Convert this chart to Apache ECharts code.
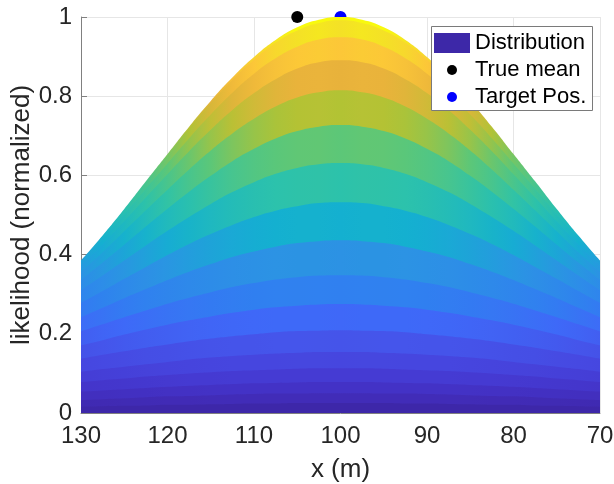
<!DOCTYPE html>
<html>
<head>
<meta charset="utf-8">
<script src="https://cdn.jsdelivr.net/npm/echarts@6/dist/echarts.min.js"></script>
<style>
  html, body { margin: 0; padding: 0; background: #fff; }
  #chart { width: 614px; height: 484px; }
</style>
</head>
<body>
<div id="chart"></div>
<script>
// x positions (m) where the band edges were read
const xValues = [130, 127.5, 125, 122.5, 120, 117.5, 115, 112.5, 110, 107.5, 105, 102.5, 100,
  97.5, 95, 92.5, 90, 87.5, 85, 82.5, 80, 77.5, 75, 72.5, 70]

// band boundaries (likelihood), lowest first
const edge00 = [0.016, 0.017, 0.018, 0.019, 0.021, 0.021, 0.022, 0.023, 0.024, 0.024, 0.025, 0.025, 0.025,
  0.025, 0.025, 0.024, 0.024, 0.023, 0.022, 0.021, 0.021, 0.019, 0.018, 0.017, 0.016]
const edge01 = [0.033, 0.035, 0.037, 0.040, 0.042, 0.043, 0.045, 0.047, 0.048, 0.049, 0.049, 0.050, 0.050,
  0.050, 0.049, 0.049, 0.048, 0.047, 0.045, 0.043, 0.042, 0.040, 0.037, 0.035, 0.033]
const edge02 = [0.054, 0.057, 0.060, 0.063, 0.066, 0.069, 0.071, 0.073, 0.075, 0.076, 0.077, 0.078, 0.078,
  0.078, 0.077, 0.076, 0.075, 0.073, 0.071, 0.069, 0.066, 0.063, 0.060, 0.057, 0.054]
const edge03 = [0.078, 0.083, 0.087, 0.092, 0.096, 0.100, 0.103, 0.106, 0.108, 0.110, 0.112, 0.113, 0.113,
  0.113, 0.112, 0.110, 0.108, 0.106, 0.103, 0.100, 0.096, 0.092, 0.087, 0.083, 0.078]
const edge04 = [0.104, 0.111, 0.117, 0.123, 0.129, 0.135, 0.140, 0.144, 0.147, 0.150, 0.152, 0.154, 0.154,
  0.154, 0.152, 0.150, 0.147, 0.144, 0.140, 0.135, 0.129, 0.123, 0.117, 0.111, 0.104]
const edge05 = [0.137, 0.147, 0.156, 0.165, 0.173, 0.181, 0.188, 0.194, 0.199, 0.204, 0.207, 0.208, 0.209,
  0.208, 0.207, 0.204, 0.199, 0.194, 0.188, 0.181, 0.173, 0.165, 0.156, 0.147, 0.137]
const edge06 = [0.171, 0.184, 0.198, 0.211, 0.223, 0.234, 0.244, 0.253, 0.261, 0.267, 0.271, 0.274, 0.275,
  0.274, 0.271, 0.267, 0.261, 0.253, 0.244, 0.234, 0.223, 0.211, 0.198, 0.184, 0.171]
const edge07 = [0.206, 0.224, 0.242, 0.259, 0.276, 0.291, 0.305, 0.318, 0.328, 0.337, 0.343, 0.347, 0.348,
  0.347, 0.343, 0.337, 0.328, 0.318, 0.305, 0.291, 0.276, 0.259, 0.242, 0.224, 0.206]
const edge08 = [0.242, 0.266, 0.290, 0.313, 0.336, 0.357, 0.376, 0.394, 0.408, 0.420, 0.429, 0.434, 0.436,
  0.434, 0.429, 0.420, 0.408, 0.394, 0.376, 0.357, 0.336, 0.313, 0.290, 0.266, 0.242]
const edge09 = [0.278, 0.308, 0.339, 0.369, 0.399, 0.427, 0.452, 0.475, 0.495, 0.511, 0.522, 0.530, 0.532,
  0.530, 0.522, 0.511, 0.495, 0.475, 0.452, 0.427, 0.399, 0.369, 0.339, 0.308, 0.278]
const edge10 = [0.310, 0.347, 0.385, 0.423, 0.460, 0.495, 0.528, 0.558, 0.583, 0.604, 0.619, 0.628, 0.631,
  0.628, 0.619, 0.604, 0.583, 0.558, 0.528, 0.495, 0.460, 0.423, 0.385, 0.347, 0.310]
const edge11 = [0.336, 0.380, 0.425, 0.471, 0.516, 0.559, 0.599, 0.636, 0.667, 0.693, 0.712, 0.723, 0.727,
  0.723, 0.712, 0.693, 0.667, 0.636, 0.599, 0.559, 0.516, 0.471, 0.425, 0.380, 0.336]
const edge12 = [0.356, 0.406, 0.459, 0.512, 0.564, 0.615, 0.663, 0.706, 0.743, 0.774, 0.797, 0.810, 0.815,
  0.810, 0.797, 0.774, 0.743, 0.706, 0.663, 0.615, 0.564, 0.512, 0.459, 0.406, 0.356]
const edge13 = [0.370, 0.426, 0.484, 0.544, 0.603, 0.661, 0.715, 0.765, 0.808, 0.843, 0.870, 0.886, 0.891,
  0.886, 0.870, 0.843, 0.808, 0.765, 0.715, 0.661, 0.603, 0.544, 0.484, 0.426, 0.370]
const edge14 = [0.378, 0.438, 0.501, 0.566, 0.630, 0.694, 0.754, 0.809, 0.857, 0.896, 0.925, 0.943, 0.949,
  0.943, 0.925, 0.896, 0.857, 0.809, 0.754, 0.694, 0.630, 0.566, 0.501, 0.438, 0.378]
const edge15 = [0.383, 0.446, 0.512, 0.581, 0.650, 0.718, 0.782, 0.841, 0.892, 0.935, 0.966, 0.985, 0.992,
  0.985, 0.966, 0.935, 0.892, 0.841, 0.782, 0.718, 0.650, 0.581, 0.512, 0.446, 0.383]
const edge16 = [0.385, 0.448, 0.515, 0.585, 0.654, 0.723, 0.788, 0.847, 0.899, 0.942, 0.974, 0.993, 1.000,
  0.993, 0.974, 0.942, 0.899, 0.847, 0.788, 0.723, 0.654, 0.585, 0.515, 0.448, 0.385]

const trueMean = [105, 1]
const targetPos = [100, 1]

const xTicks = { min: 70, max: 130, step: 10 }
const yTicks = { min: 0, max: 1, step: 0.2 }

const edges = [edge00, edge01, edge02, edge03, edge04, edge05, edge06, edge07, edge08,
  edge09, edge10, edge11, edge12, edge13, edge14, edge15, edge16]

// parula-like colour key: height -> colour
const cmap = [
  [0.0125, '#3d27a9'], [0.0375, '#412cb8'], [0.064, '#4332c6'], [0.0955, '#453bd3'],
  [0.1335, '#4646df'], [0.1815, '#4554ea'], [0.242, '#3f68f8'], [0.3115, '#3080f0'],
  [0.392, '#2c92e4'], [0.484, '#14b0d0'], [0.5815, '#2cc2ab'], [0.679, '#5cc778'],
  [0.771, '#b2c334'], [0.853, '#e8b23b'], [0.92, '#fcc738'], [0.9705, '#f4e126'],
  [0.996, '#f8f90e'],
]

function hexToRgb(h) {
  return [parseInt(h.slice(1, 3), 16), parseInt(h.slice(3, 5), 16), parseInt(h.slice(5, 7), 16)]
}

function colorAt(v) {
  if (v <= cmap[0][0]) return cmap[0][1]
  for (let i = 1; i < cmap.length; i++) {
    if (v <= cmap[i][0]) {
      const t = (v - cmap[i - 1][0]) / (cmap[i][0] - cmap[i - 1][0])
      const a = hexToRgb(cmap[i - 1][1])
      const b = hexToRgb(cmap[i][1])
      const c = a.map((ch, j) => Math.round(ch + (b[j] - ch) * t))
      return 'rgb(' + c.join(',') + ')'
    }
  }
  return cmap[cmap.length - 1][1]
}

const chart = echarts.init(document.getElementById('chart'))

// outermost band first so the lower ones paint over it
let series = []
const outer = edges[edges.length - 1]
for (let k = edges.length - 1; k >= 0; k--) {
  const upper = edges[k]
  const lower = k > 0 ? edges[k - 1] : null
  const stops = xValues.map((x, i) => {
    const mid = lower ? (upper[i] + lower[i]) / 2 : upper[i] / 2
    // shading on the flanks runs a little warmer than at the centre
    const boost = 1 + 0.13 * Math.sqrt((1 - outer[i]) / (1 - outer[0]))
    return { offset: i / (xValues.length - 1), color: colorAt(mid * boost) }
  })
  series.push({
    name: 'Distribution',
    type: 'line',
    smooth: 0.5,
    symbol: 'none',
    silent: true,
    z: 2,
    lineStyle: { width: 0 },
    areaStyle: {
      opacity: 1,
      color: new echarts.graphic.LinearGradient(0, 0, 1, 0, stops),
    },
    data: xValues.map((x, i) => [x, upper[i]]),
  })
}

series.push({
  name: 'True mean',
  type: 'scatter',
  z: 1,
  symbolSize: 12,
  itemStyle: { color: '#000000', opacity: 1 },
  data: [trueMean],
})
series.push({
  name: 'Target Pos.',
  type: 'scatter',
  z: 1,
  symbolSize: 12,
  itemStyle: { color: '#0000ff', opacity: 1 },
  data: [targetPos],
})

const fontFamily = '"Liberation Sans", Arial, Helvetica, sans-serif'

let option = {
  animation: false,
  textStyle: { fontFamily: fontFamily },
  grid: { left: 81, right: 14, top: 17, bottom: 71, outerBoundsMode: 'none', containLabel: false },
  xAxis: {
    type: 'value',
    inverse: true,
    min: xTicks.min,
    max: xTicks.max,
    interval: xTicks.step,
    name: 'x (m)',
    nameLocation: 'middle',
    nameGap: 44,
    nameTextStyle: { fontSize: 26, color: '#262626', fontFamily: fontFamily },
    axisLine: { lineStyle: { color: '#808080' } },
    axisTick: { show: false },
    axisLabel: { fontSize: 24, color: '#262626', margin: 11, fontFamily: fontFamily },
    splitLine: { show: true, lineStyle: { color: '#e6e6e6' } },
  },
  yAxis: {
    type: 'value',
    min: yTicks.min,
    max: yTicks.max,
    interval: yTicks.step,
    name: 'likelihood (normalized)',
    nameLocation: 'middle',
    nameMoveOverlap: false,
    nameGap: 46,
    nameTextStyle: { fontSize: 26, color: '#262626', fontFamily: fontFamily },
    axisLine: { show: true, lineStyle: { color: '#808080' } },
    axisTick: { show: true, inside: true, length: 6, lineStyle: { color: '#808080' } },
    axisLabel: { fontSize: 24, color: '#262626', margin: 9, fontFamily: fontFamily },
    splitLine: { show: true, lineStyle: { color: '#e6e6e6' } },
  },
  graphic: [
    {
      type: 'rect',
      left: 431,
      top: 26,
      z: 10,
      shape: { width: 161, height: 84 },
      style: { fill: '#ffffff', stroke: '#7a7a7a', lineWidth: 1 },
    },
  ],
  legend: [
    {
      z: 20,
      left: 434,
      top: 32,
      padding: 0,
      itemWidth: 36,
      itemHeight: 20,
      textStyle: { fontSize: 22, lineHeight: 20, color: '#000', fontFamily: fontFamily },
      data: [{ name: 'Distribution', icon: 'rect', itemStyle: { color: '#3d28a8' } }],
    },
    {
      z: 20,
      left: 447,
      top: 59,
      padding: 0,
      orient: 'vertical',
      itemGap: 5,
      itemWidth: 36,
      itemHeight: 10,
      textStyle: { fontSize: 22, lineHeight: 22, color: '#000', fontFamily: fontFamily },
      data: [
        { name: 'True mean', icon: 'circle' },
        { name: 'Target Pos.', icon: 'circle' },
      ],
    },
  ],
  series: series,
}

chart.setOption(option)
</script>
</body>
</html>
